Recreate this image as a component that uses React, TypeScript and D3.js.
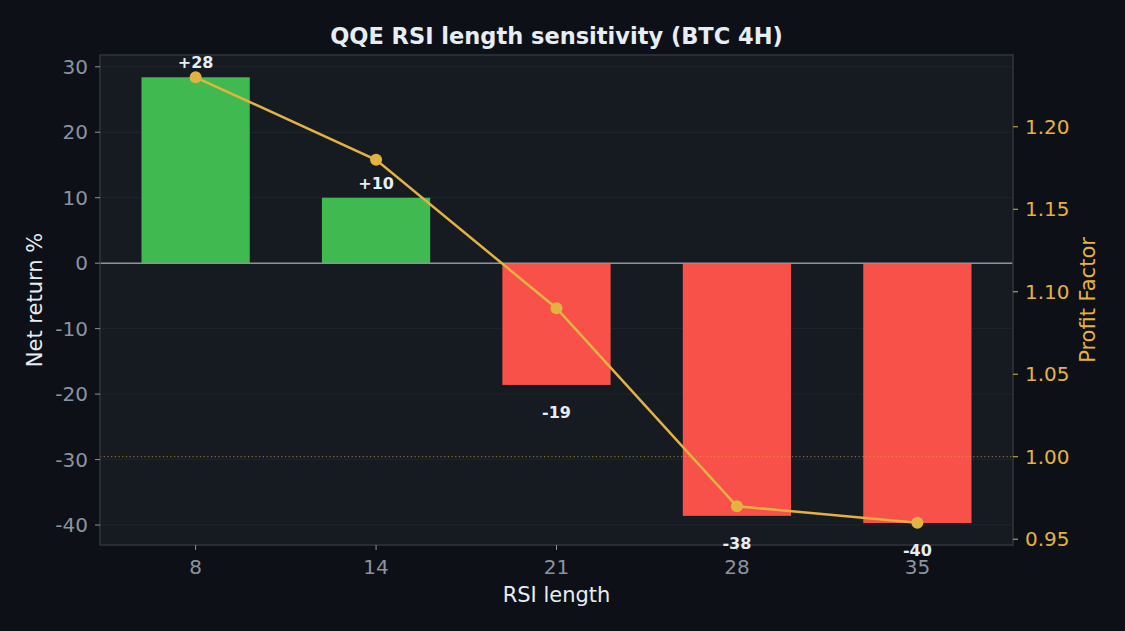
import React from 'react';
import * as d3 from 'd3';

// RSI lengths tested, net return % and profit factor per length
const rsiLengths = ['8', '14', '21', '28', '35'];
const netReturns = [28.4, 10.0, -18.6, -38.6, -39.7];
const returnLabels = ['+28', '+10', '-19', '-38', '-40'];
const profitFactors = [1.23, 1.18, 1.09, 0.97, 0.96];
const returnTicks = [-40, -30, -20, -10, 0, 10, 20, 30];
const pfTicks = [0.95, 1.0, 1.05, 1.1, 1.15, 1.2];

const W = 1125;
const H = 631;
const margin = { top: 55, right: 112, bottom: 86, left: 100 };

const COLORS = {
  bg: '#0d1117',
  panel: '#161b22',
  grid: '#21262d',
  spine: '#30363d',
  tick: '#8b949e',
  text: '#e6edf3',
  green: '#3fb950',
  red: '#f85149',
  yellow: '#e3b341',
  zero: '#8b949e',
};

const FONT = '"DejaVu Sans", sans-serif';

const App: React.FC = () => {
  const innerW = W - margin.left - margin.right;
  const innerH = H - margin.top - margin.bottom;

  const x = d3.scaleLinear().domain([-0.53, rsiLengths.length - 1 + 0.53]).range([0, innerW]);
  const yL = d3.scaleLinear().domain([-43.05, 31.8]).range([innerH, 0]);
  const yR = d3.scaleLinear().domain([0.9465, 1.2435]).range([innerH, 0]);
  const barW = x(0.6) - x(0);

  const line = d3.line<number>()
    .x((_, i) => x(i))
    .y(d => yR(d));

  return (
    <svg width={W} height={H} style={{ display: 'block', position: 'absolute', left: 0, top: 0 }}>
      <rect width={W} height={H} fill={COLORS.bg} />
      <text x={margin.left + innerW / 2} y={44} textAnchor="middle" fill={COLORS.text}
        fontFamily={FONT} fontWeight="bold" fontSize={22.5}>
        QQE RSI length sensitivity (BTC 4H)
      </text>
      <g transform={`translate(${margin.left},${margin.top})`}>
        <rect width={innerW} height={innerH} fill={COLORS.panel} />
        {returnTicks.map(t => (
          <line key={t} x1={0} x2={innerW} y1={yL(t)} y2={yL(t)} stroke={COLORS.grid} strokeWidth={1} />
        ))}
        {netReturns.map((v, i) => (
          <rect key={i} x={x(i) - barW / 2} width={barW}
            y={yL(Math.max(0, v))} height={Math.abs(yL(v) - yL(0))}
            fill={v >= 0 ? COLORS.green : COLORS.red} />
        ))}
        <line x1={0} x2={innerW} y1={yL(0)} y2={yL(0)} stroke={COLORS.zero} strokeWidth={1.5} />
        <line x1={0} x2={innerW} y1={yR(1.0)} y2={yR(1.0)} stroke={COLORS.yellow}
          strokeWidth={1} strokeDasharray="1.2 2.5" opacity={0.7} />
        <path d={line(profitFactors) ?? ''} fill="none" stroke={COLORS.yellow} strokeWidth={2.5} />
        {profitFactors.map((v, i) => (
          <circle key={i} cx={x(i)} cy={yR(v)} r={6} fill={COLORS.yellow} />
        ))}
        <rect width={innerW} height={innerH} fill="none" stroke={COLORS.spine} strokeWidth={1.5} />
        {/* left ticks */}
        {returnTicks.map(t => (
          <g key={t} transform={`translate(0,${yL(t)})`}>
            <line x1={-5} x2={0} stroke={COLORS.tick} />
            <text x={-12} dy="0.35em" textAnchor="end" fill={COLORS.tick} fontFamily={FONT} fontSize={20}>
              {t}
            </text>
          </g>
        ))}
        {/* right ticks */}
        {pfTicks.map(t => (
          <g key={t} transform={`translate(${innerW},${yR(t)})`}>
            <line x1={0} x2={5} stroke={COLORS.yellow} />
            <text x={12} dy="0.35em" textAnchor="start" fill={COLORS.yellow} fontFamily={FONT} fontSize={20}>
              {t.toFixed(2)}
            </text>
          </g>
        ))}
        {/* bottom ticks */}
        {rsiLengths.map((c, i) => (
          <g key={c} transform={`translate(${x(i)},${innerH})`}>
            <line y1={0} y2={5} stroke={COLORS.tick} />
            <text y={22} dy="0.35em" textAnchor="middle" fill={COLORS.tick} fontFamily={FONT} fontSize={20}>
              {c}
            </text>
          </g>
        ))}
        {/* value labels */}
        {netReturns.map((v, i) => (
          <text key={i} x={x(i)} y={v >= 0 ? yL(v + 1) : yL(v - 3)}
            dy={v >= 0 ? '-0.15em' : '0.85em'} textAnchor="middle"
            fill={COLORS.text} fontFamily={FONT} fontWeight="bold" fontSize={16}>
            {returnLabels[i]}
          </text>
        ))}
        <text x={innerW / 2} y={innerH + 57} textAnchor="middle" fill={COLORS.text} fontFamily={FONT} fontSize={21}>
          RSI length
        </text>
        <text transform={`translate(-58,${innerH / 2}) rotate(-90)`} textAnchor="middle"
          fill={COLORS.text} fontFamily={FONT} fontSize={21}>
          Net return %
        </text>
        <text transform={`translate(${innerW + 82},${innerH / 2}) rotate(-90)`} textAnchor="middle"
          fill={COLORS.yellow} fontFamily={FONT} fontSize={21}>
          Profit Factor
        </text>
      </g>
    </svg>
  );
};

export default App;
